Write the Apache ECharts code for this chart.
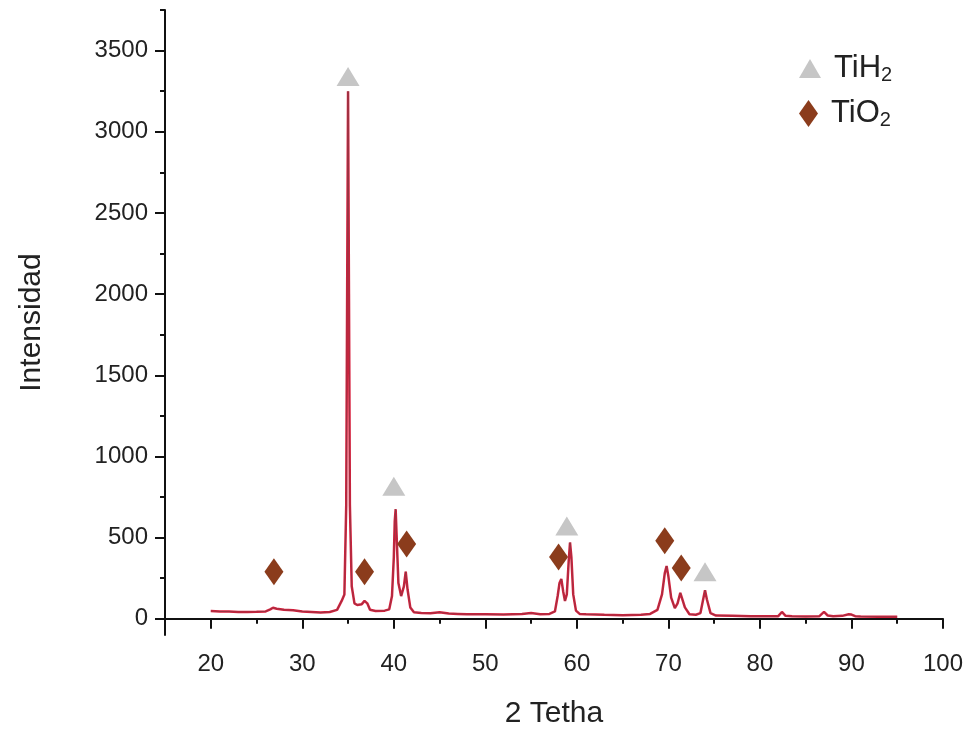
<!DOCTYPE html>
<html>
<head>
<meta charset="utf-8">
<script src="https://cdn.jsdelivr.net/npm/echarts@6/dist/echarts.min.js"></script>
<style>html,body{margin:0;padding:0;background:#fff}#c{width:972px;height:734px}</style>
</head>
<body>
<div id="c"></div>
<script>
// ---- data ----
var twoTheta = [20,21,22,23,24,25,26,26.5,26.8,27.2,28,29,30,31,32,33,33.8,34.3,34.6,34.8,34.9,35.0,35.1,35.2,35.4,35.7,36.0,36.5,36.8,37.1,37.4,38,39,39.5,39.8,40.0,40.1,40.2,40.3,40.5,40.8,41.1,41.3,41.5,41.8,42.2,43,44,45,45.2,46,47,48,50,52,54,55,56,57,57.6,57.9,58.1,58.3,58.5,58.7,58.9,59.1,59.25,59.4,59.6,59.9,60.3,61,63,65,67,68,68.8,69.3,69.6,69.8,70.0,70.3,70.7,71.0,71.3,71.5,71.8,72.3,73,73.5,73.8,74.0,74.2,74.6,75.2,77,79,81,82,82.4,82.8,83.5,85,86.5,87.0,87.4,88,89,89.7,90,90.4,91,93,95];
var intensity = [48,45,44,42,42,43,45,58,68,62,55,52,45,42,38,42,55,110,150,700,2000,3250,2000,700,200,95,85,90,110,95,55,48,50,58,140,380,600,675,520,220,140,200,290,180,70,40,36,34,40,45,32,30,28,28,26,30,35,28,30,45,140,220,245,170,110,150,350,470,380,150,50,30,28,24,22,25,30,55,150,280,325,260,130,65,95,160,150,70,28,25,35,120,175,120,35,20,18,16,15,16,42,18,15,14,16,42,20,15,18,28,26,16,14,13,12];

var tih2X = [35.0, 40.0, 58.9, 74.0];
var tih2Y = [3340, 817, 571, 290];
var tio2X = [26.9, 36.8, 41.4, 58.0, 69.6, 71.4];
var tio2Y = [290, 290, 460, 380, 480, 313];

var xMajorTicks = [20,30,40,50,60,70,80,90,100];
var xMinorTicks = [25,35,45,55,65,75,85,95];
var yMajorTicks = [0,500,1000,1500,2000,2500,3000,3500];
var yMinorTicks = [250,750,1250,1750,2250,2750,3250,3750];

function pairs(xs, ys){ return xs.map(function(x,i){ return [x, ys[i]]; }); }

var chart = echarts.init(document.getElementById('c'), null, {renderer:'canvas'});
var FONT = 'Liberation Sans, Arial, sans-serif';
var axisLine = {show:true, lineStyle:{color:'#111', width:2}};

var legendRich = {
  n:{fontSize:31, fontFamily:FONT, color:'#222', padding:[0,0,0,8]},
  s:{fontSize:20, fontFamily:FONT, color:'#222', padding:[14,0,0,0]}
};
function legendFmt(name){ return name === 'TiH2' ? '{n|TiH}{s|2}' : '{n|TiO}{s|2}'; }

chart.setOption({
  animation:false,
  backgroundColor:'#fff',
  grid:{left:165, right:29, top:10, bottom:98, containLabel:false},
  legend:[
    {data:[{name:'TiH2', icon:'triangle'}], left:794, top:48, itemWidth:22, itemHeight:19, itemGap:10,
     formatter:legendFmt, textStyle:{rich:legendRich}},
    {data:[{name:'TiO2', icon:'diamond'}], left:794, top:93, itemWidth:19, itemHeight:27, itemGap:10,
     formatter:legendFmt, textStyle:{rich:legendRich}}
  ],
  xAxis:[
    {type:'value', min:15, max:100, position:'bottom',
     name:'2 Tetha', nameLocation:'middle', nameGap:64,
     nameTextStyle:{fontSize:30, fontFamily:FONT, color:'#222'},
     axisLine:axisLine,
     axisTick:{show:true, length:10, lineStyle:{color:'#111', width:2}, customValues:xMajorTicks},
     axisLabel:{show:true, margin:17, fontSize:24, fontFamily:FONT, color:'#222', customValues:xMajorTicks},
     splitLine:{show:false}},
    {type:'value', min:15, max:100, position:'bottom', offset:0,
     axisLine:{show:false},
     axisTick:{show:true, length:5, lineStyle:{color:'#111', width:2}, customValues:xMinorTicks},
     axisLabel:{show:false}, splitLine:{show:false}}
  ],
  yAxis:[
    {type:'value', min:-100, max:3750, position:'left',
     name:'Intensidad', nameLocation:'middle', nameGap:118, nameRotate:90,
     nameTextStyle:{fontSize:30, fontFamily:FONT, color:'#222'},
     axisLine:axisLine,
     axisTick:{show:true, length:10, lineStyle:{color:'#111', width:2}, customValues:yMajorTicks},
     axisLabel:{show:true, margin:17, fontSize:24, fontFamily:FONT, color:'#222', customValues:yMajorTicks,
                formatter:function(v){ return String(v); }},
     splitLine:{show:false}},
    {type:'value', min:-100, max:3750, position:'left', offset:0,
     axisLine:{show:false},
     axisTick:{show:true, length:5, lineStyle:{color:'#111', width:2}, customValues:yMinorTicks},
     axisLabel:{show:false}, splitLine:{show:false}}
  ],
  series:[
    {name:'pattern', type:'line', xAxisIndex:0, yAxisIndex:0, data:pairs(twoTheta,intensity),
     showSymbol:false, symbol:'none', lineStyle:{color:'#d81e3c', width:2.5}, z:2},
    {name:'pattern2', type:'line', xAxisIndex:0, yAxisIndex:0, data:pairs(twoTheta,intensity),
     showSymbol:false, symbol:'none', lineStyle:{color:'#5a4a4a', width:0.8, opacity:0.6}, z:3},
    {name:'TiH2', type:'scatter', xAxisIndex:0, yAxisIndex:0, data:pairs(tih2X,tih2Y),
     symbol:'triangle', symbolSize:[23,19], itemStyle:{color:'#c6c6c6', opacity:1}, z:4},
    {name:'TiO2', type:'scatter', xAxisIndex:0, yAxisIndex:0, data:pairs(tio2X,tio2Y),
     symbol:'diamond', symbolSize:[19,27], itemStyle:{color:'#8b3c1c', opacity:1}, z:4}
  ]
});
</script>
</body>
</html>
